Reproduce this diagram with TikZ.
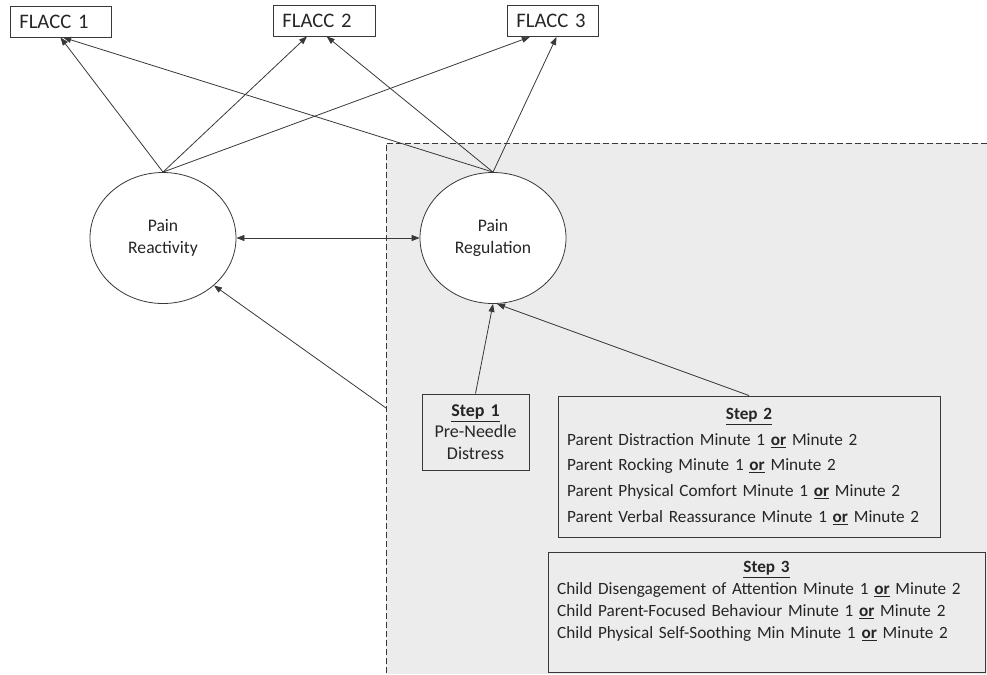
\documentclass[tikz,border=0pt]{standalone}
\usepackage{fontspec}
\setmainfont{Carlito}
\usetikzlibrary{arrows.meta, shapes.geometric, backgrounds, calc}
\colorlet{Cline}{black!78}
\colorlet{Ctext}{black!85}
\colorlet{Cstep}{black!7.5}
\tikzset{
  flaccbox/.style={draw=Cline, line width=0.7pt, minimum height=23.25pt,
    inner xsep=7pt, text width=#1, align=left, text=Ctext,
    font=\fontsize{15.5}{18}\selectfont},
  latent/.style={ellipse, draw=Cline, line width=0.6pt, fill=white,
    minimum width=109.5pt, minimum height=98.25pt, inner sep=0pt,
    align=center, text=Ctext, font=\fontsize{13.2}{16.5}\selectfont},
  stepbox/.style={draw=Cline, line width=0.7pt, text=Ctext,
    font=\fontsize{12.9}{16.3}\selectfont},
  arr/.style={-{Triangle[length=6pt, width=4.5pt]}, line width=0.6pt, draw=Cline},
  dblarr/.style={{Triangle[length=6pt, width=4.5pt]}-{Triangle[length=6pt, width=4.5pt]},
    line width=0.6pt, draw=Cline},
}
\newcommand{\orword}{\underline{\textbf{or}}}

\begin{document}
\begin{tikzpicture}[x=0.75pt, y=-0.75pt]
\useasboundingbox (0,0) rectangle (987,674);

%%==========================================================================
%% INDICATORS
%%==========================================================================
\node[flaccbox=61.75pt] (flacc1) at (60.5,21.5) {FLACC 1};
\node[flaccbox=62.5pt] (flacc2) at (324,20.5) {FLACC 2};
\node[flaccbox=54.25pt] (flacc3) at (552.5,21) {FLACC 3};

%%==========================================================================
%% LATENT FACTORS
%%==========================================================================
\node[latent] (react) at (163,238) {Pain\\Reactivity};
\node[latent] (reg) at (493,238) {Pain\\Regulation};

%%==========================================================================
%% PREDICTORS (steps)
%%==========================================================================
\node[stepbox, minimum width=80.25pt, minimum height=57pt, align=center,
  text width=70pt, font=\fontsize{13.5}{16}\selectfont] (step1) at (475.5,432)
  {\underline{\textbf{Step 1}}\\Pre-Needle\\Distress};

\node[stepbox, minimum width=286.5pt, minimum height=105.75pt, align=left,
  inner xsep=6.75pt, text width=273pt,
  font=\fontsize{12.9}{19.3}\selectfont] (step2) at (749,466.5)
  {\centering\underline{\textbf{Step 2}}\par\raggedright
   Parent Distraction Minute 1 \orword{} Minute 2\\
   Parent Rocking Minute 1 \orword{} Minute 2\\
   Parent Physical Comfort Minute 1 \orword{} Minute 2\\
   Parent Verbal Reassurance Minute 1 \orword{} Minute 2};

\node[stepbox, minimum width=327.75pt, minimum height=90pt, align=left,
  inner xsep=6.75pt, text width=314pt] (step3) at (766.5,612)
  {\centering\underline{\textbf{Step 3}}\par\raggedright
   Child Disengagement of Attention Minute 1 \orword{} Minute 2\\
   Child Parent-Focused Behaviour Minute 1 \orword{} Minute 2\\
   Child Physical Self-Soothing Min Minute 1 \orword{} Minute 2\\[2pt]
   \mbox{}};

\coordinate (grpedge) at (386,408);

%%==========================================================================
%% ARROWS
%%==========================================================================
\draw[arr] (react.north) -- (flacc1.south);
\draw[arr] (react.north) -- ([xshift=-12.75pt]flacc2.south);
\draw[arr] (react.north) -- ([xshift=-17pt]flacc3.south);
\draw[arr] (reg.north) -- ([xshift=2pt]flacc1.south);
\draw[arr] (reg.north) -- ([xshift=2pt]flacc2.south);
\draw[arr] (reg.north) -- ([xshift=3pt]flacc3.south);

\draw[dblarr] (react.east) -- (reg.west);

\draw[arr] (step1.north) -- (reg.south);
\draw[arr] (step2.north) -- ([xshift=3pt]reg.south);
\draw[arr] (grpedge) -- (react.-43);

%%==========================================================================
%% BACKGROUND REGION
%%==========================================================================
\begin{scope}[on background layer]
  \fill[Cstep] (386,143) rectangle (987,674);
  \draw[Cline, line width=0.7pt, dash pattern=on 4.5pt off 2.25pt]
    (987,143) -- (386,143) -- (386,674);
\end{scope}

\end{tikzpicture}
\end{document}
